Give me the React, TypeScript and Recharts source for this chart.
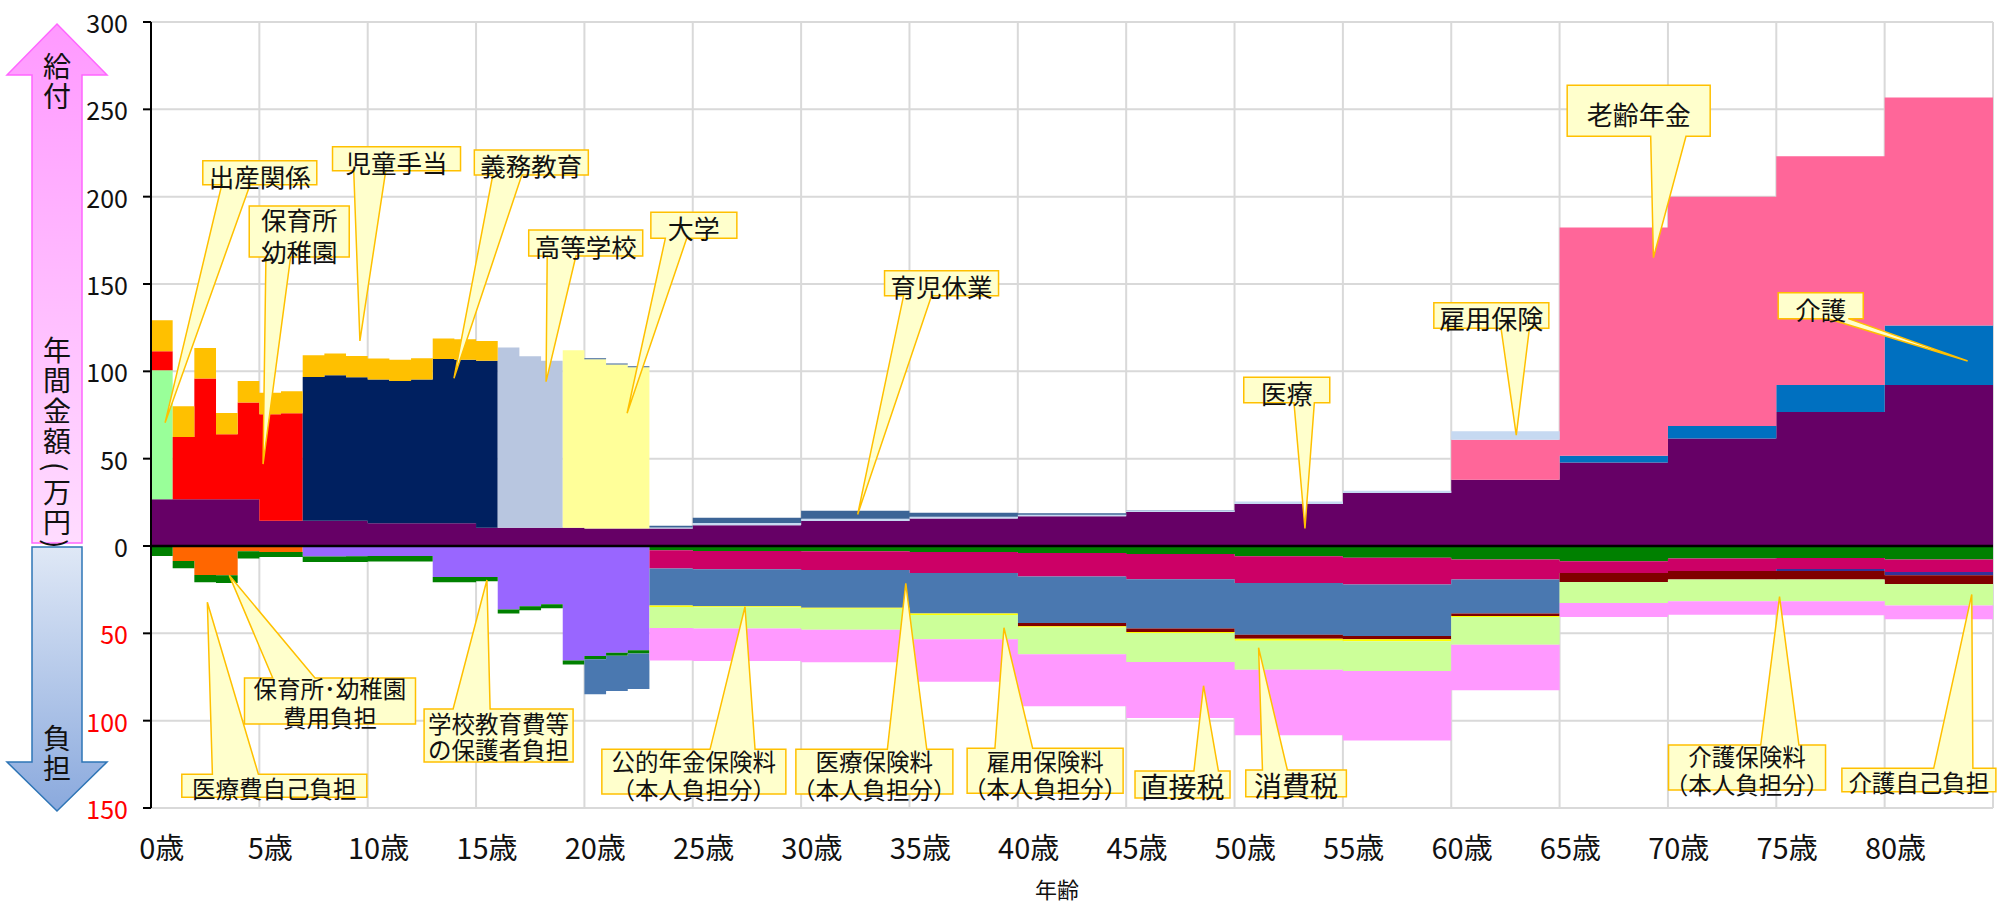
import React from 'react';
import { AreaChart, Area, XAxis, YAxis, CartesianGrid, ReferenceLine } from 'recharts';

const FONT = "'Noto Sans CJK JP', 'Noto Sans', sans-serif";

// ---- age groups (start age of each step); last group ends at 85 ----
const GROUP_START = [
  0, 1, 2, 3, 4, 5, 6, 7, 8, 9, 10, 11, 12, 13, 14, 15, 16, 17, 18, 19, 20, 21, 22,
  23, 25, 30, 35, 40, 45, 50, 55, 60, 65, 70, 75, 80,
];
const AGE_MAX = 85;
const TICK_AGES = [0, 5, 10, 15, 20, 25, 30, 35, 40, 45, 50, 55, 60, 65, 70, 75, 80];
const GRID_AGES = [5, 10, 15, 20, 25, 30, 35, 40, 45, 50, 55, 60, 65, 70, 75, 80, 85];
const Y_TICKS = [-150, -100, -50, 0, 50, 100, 150, 200, 250, 300];

// ---- benefits (給付), 万円 ----
const IRYO = [
  26.7, 26.7, 26.7, 26.7, 26.7, 14.5, 14.5, 14.5, 14.5, 14.5, 13.0, 13.0, 13.0, 13.0, 13.0, 10.5, 10.5, 10.5, 10.5, 10.5, 10.0, 10.0, 10.0,
  10.0, 11.9, 14.3, 15.7, 17.0, 19.5, 24.0, 30.4, 38.0, 47.8, 61.5, 76.7, 92.2,
];
const SHUSSAN = [
  73.9, 0, 0, 0, 0, 0, 0, 0, 0, 0, 0, 0, 0, 0, 0, 0, 0, 0, 0, 0, 0, 0, 0,
  0, 0, 0, 0, 0, 0, 0, 0, 0, 0, 0, 0, 0,
];
const HOIKU = [
  10.9, 35.7, 69.2, 37.3, 55.4, 60.9, 61.5, 0, 0, 0, 0, 0, 0, 0, 0, 0, 0, 0, 0, 0, 0, 0, 0,
  0, 0, 0, 0, 0, 0, 0, 0, 0, 0, 0, 0, 0,
];
const GIMU = [
  0, 0, 0, 0, 0, 0, 0, 82.3, 83.3, 82.1, 82.3, 81.5, 82.3, 94.1, 93.7, 95.5, 0, 0, 0, 0, 0, 0, 0,
  0, 0, 0, 0, 0, 0, 0, 0, 0, 0, 0, 0, 0,
];
const KOKO = [
  0, 0, 0, 0, 0, 0, 0, 0, 0, 0, 0, 0, 0, 0, 0, 0, 103.1, 98.1, 95.5, 0, 0, 0, 0,
  0, 0, 0, 0, 0, 0, 0, 0, 0, 0, 0, 0, 0,
];
const DAIGAKU = [
  0, 0, 0, 0, 0, 0, 0, 0, 0, 0, 0, 0, 0, 0, 0, 0, 0, 0, 0, 101.6, 96.9, 93.9, 92.3,
  0, 0, 0, 0, 0, 0, 0, 0, 0, 0, 0, 0, 0,
];
const JIDO = [
  17.8, 17.6, 17.5, 12.2, 12.4, 12.4, 12.6, 12.4, 12.4, 12.2, 12.0, 12.2, 12.2, 11.7, 11.7, 11.4, 0, 0, 0, 0, 0, 0, 0,
  0, 0, 0, 0, 0, 0, 0, 0, 0, 0, 0, 0, 0,
];
const KAIGO = [
  0, 0, 0, 0, 0, 0, 0, 0, 0, 0, 0, 0, 0, 0, 0, 0, 0, 0, 0, 0, 0, 0, 0,
  0, 0, 0, 0, 0, 0, 0, 0, 0, 3.8, 7.2, 15.5, 34.0,
];
const NENKIN = [
  0, 0, 0, 0, 0, 0, 0, 0, 0, 0, 0, 0, 0, 0, 0, 0, 0, 0, 0, 0, 0, 0, 0,
  0, 0, 0, 0, 0, 0, 0, 0, 22.9, 130.8, 131.2, 131.0, 130.6,
];
const KOYO = [
  0, 0, 0, 0, 0, 0, 0, 0, 0, 0, 0, 0, 0, 0, 0, 0, 0, 0, 0, 0, 0, 0, 0,
  0.6, 1.3, 1.3, 1.1, 0.9, 0.9, 1.5, 1.2, 4.8, 0, 0, 0, 0,
];
const IKUJI = [
  0, 0, 0, 0, 0, 0, 0, 0, 0, 0, 0, 0, 0, 0, 0, 0, 0, 0, 0, 0, 0.6, 0.6, 0.6,
  1.0, 3.0, 4.6, 2.3, 0.9, 0.2, 0, 0, 0, 0, 0, 0, 0,
];

// ---- burdens (負担), 万円 (drawn downward) ----
const HOIKU_HI = [
  0.5, 8.6, 16.6, 16.8, 3.0, 3.4, 3.4, 0, 0, 0, 0, 0, 0, 0, 0, 0, 0, 0, 0, 0, 0, 0, 0,
  0, 0, 0, 0, 0, 0, 0, 0, 0, 0, 0, 0, 0,
];
const GAKKO_HI = [
  0, 0, 0, 0, 0, 0, 0, 6.0, 6.0, 5.9, 5.7, 5.7, 5.7, 17.7, 17.7, 17.7, 36.4, 34.5, 33.4, 65.5, 63.0, 61.1, 59.7,
  0, 0, 0, 0, 0, 0, 0, 0, 0, 0, 0, 0, 0,
];
const IRYO_JIKO = [
  5.2, 4.2, 4.2, 4.4, 4.2, 2.9, 2.9, 3.2, 3.2, 3.2, 3.2, 3.2, 3.2, 3.0, 3.0, 2.5, 2.3, 2.3, 2.3, 2.3, 1.9, 1.7, 1.9,
  2.5, 2.8, 3.0, 3.4, 4.0, 4.6, 5.9, 6.7, 7.8, 8.8, 7.2, 6.9, 7.8,
];
const IRYO_HOKEN = [
  0, 0, 0, 0, 0, 0, 0, 0, 0, 0, 0, 0, 0, 0, 0, 0, 0, 0, 0, 0, 0, 0, 0,
  10.4, 10.5, 10.7, 12.1, 13.4, 14.5, 15.3, 15.4, 11.4, 6.6, 7.1, 6.3, 7.1,
];
const NENKIN_HOKEN = [
  0, 0, 0, 0, 0, 0, 0, 0, 0, 0, 0, 0, 0, 0, 0, 0, 0, 0, 0, 0, 20.0, 20.2, 20.3,
  21.2, 21.2, 21.6, 23.2, 26.7, 28.2, 29.6, 29.4, 19.5, 0, 0, 0, 0,
];
const KAIGO_JIKO = [
  0, 0, 0, 0, 0, 0, 0, 0, 0, 0, 0, 0, 0, 0, 0, 0, 0, 0, 0, 0, 0, 0, 0,
  0, 0, 0, 0, 0, 0, 0, 0, 0, 0, 0, 1.1, 1.9,
];
const KAIGO_HOKEN = [
  0, 0, 0, 0, 0, 0, 0, 0, 0, 0, 0, 0, 0, 0, 0, 0, 0, 0, 0, 0, 0, 0, 0,
  0, 0, 0, 0, 1.9, 1.9, 2.3, 1.9, 1.4, 5.2, 4.9, 4.9, 5.0,
];
const KOYO_HOKEN = [
  0, 0, 0, 0, 0, 0, 0, 0, 0, 0, 0, 0, 0, 0, 0, 0, 0, 0, 0, 0, 0, 0, 0,
  0.8, 0.6, 0.6, 0.8, 0.6, 0.8, 1.1, 1.2, 0.6, 0, 0, 0, 0,
];
const SHOHIZEI = [
  0, 0, 0, 0, 0, 0, 0, 0, 0, 0, 0, 0, 0, 0, 0, 0, 0, 0, 0, 0, 0, 0, 0,
  12.1, 12.2, 12.0, 13.9, 15.4, 16.4, 16.6, 17.0, 15.8, 12.0, 12.5, 12.5, 12.3,
];
const CHOKUSETSU = [
  0, 0, 0, 0, 0, 0, 0, 0, 0, 0, 0, 0, 0, 0, 0, 0, 0, 0, 0, 0, 0, 0, 0,
  18.5, 18.5, 18.7, 24.3, 29.8, 32.1, 37.6, 39.7, 26.1, 8.1, 7.6, 8.0, 7.9,
];

const POS_SERIES = [
  { key: 'iryo', name: '医療', color: '#660066', values: IRYO },
  { key: 'shussan', name: '出産関係', color: '#99ff99', values: SHUSSAN },
  { key: 'hoiku', name: '保育所・幼稚園', color: '#ff0000', values: HOIKU },
  { key: 'gimu', name: '義務教育', color: '#002060', values: GIMU },
  { key: 'koko', name: '高等学校', color: '#b8c6e0', values: KOKO },
  { key: 'daigaku', name: '大学', color: '#ffff99', values: DAIGAKU },
  { key: 'jido', name: '児童手当', color: '#ffc000', values: JIDO },
  { key: 'kaigo', name: '介護', color: '#0070c0', values: KAIGO },
  { key: 'nenkin', name: '老齢年金', color: '#ff6699', values: NENKIN },
  { key: 'koyo', name: '雇用保険', color: '#c6d9f1', values: KOYO },
  { key: 'ikuji', name: '育児休業', color: '#3c6496', values: IKUJI },
];
const NEG_SERIES = [
  { key: 'hoikuHi', name: '保育所・幼稚園費用負担', color: '#ff6600', values: HOIKU_HI },
  { key: 'gakkoHi', name: '学校教育費等の保護者負担', color: '#9966ff', values: GAKKO_HI },
  { key: 'iryoJiko', name: '医療費自己負担', color: '#008000', values: IRYO_JIKO },
  { key: 'iryoHoken', name: '医療保険料', color: '#cc0066', values: IRYO_HOKEN },
  { key: 'nenkinHoken', name: '公的年金保険料', color: '#4a78b0', values: NENKIN_HOKEN },
  { key: 'kaigoJiko', name: '介護自己負担', color: '#333399', values: KAIGO_JIKO },
  { key: 'kaigoHoken', name: '介護保険料', color: '#800000', values: KAIGO_HOKEN },
  { key: 'koyoHoken', name: '雇用保険料', color: '#ffff00', values: KOYO_HOKEN },
  { key: 'shohizei', name: '消費税', color: '#ccff99', values: SHOHIZEI },
  { key: 'chokusetsu', name: '直接税', color: '#ff99ff', values: CHOKUSETSU },
];

const rows: any[] = GROUP_START.map((age, i) => {
  const r: any = { age };
  POS_SERIES.forEach((s) => (r[s.key] = s.values[i]));
  NEG_SERIES.forEach((s) => (r[s.key] = -s.values[i]));
  return r;
});
rows.push({ ...rows[rows.length - 1], age: AGE_MAX });

// ---- callouts: tip & box centre in data units (age, 万円); size/wedge in px ----
type Ann = {
  lines: string[]; tip: [number, number]; box: [number, number];
  w: number; h: number; side: 'top' | 'bottom'; base: [number, number];
  fs: number; lh?: number; dy?: number;
};
const ANNOTATIONS: Ann[] = [
  { lines: ['出産関係'], tip: [0.65, 70.6], box: [5.02, 213.7], w: 114, h: 24, side: 'bottom', base: [-38, -9.7], fs: 25.5 },
  { lines: ['保育所', '幼稚園'], tip: [5.17, 46.9], box: [6.84, 180.1], w: 100, h: 51, side: 'bottom', base: [-33.3, -8.6], fs: 25.5, lh: 31.5, dy: 2.5 },
  { lines: ['児童手当'], tip: [9.64, 117.4], box: [11.33, 221.7], w: 128, h: 24, side: 'bottom', base: [-42.8, -10.8], fs: 25.5 },
  { lines: ['義務教育'], tip: [13.98, 96.0], box: [17.55, 219.6], w: 114, h: 25, side: 'bottom', base: [-38.5, -9.5], fs: 25.5 },
  { lines: ['高等学校'], tip: [18.23, 94.1], box: [20.06, 173.5], w: 114, h: 26, side: 'bottom', base: [-38.5, -9.8], fs: 25.5 },
  { lines: ['大学'], tip: [21.97, 76.0], box: [25.05, 183.6], w: 86, h: 26, side: 'bottom', base: [-28.5, -7.1], fs: 26 },
  { lines: ['育児休業'], tip: [32.61, 18.1], box: [36.48, 150.4], w: 114, h: 25, side: 'bottom', base: [-38, -10], fs: 25.5 },
  { lines: ['医療'], tip: [53.25, 10.1], box: [52.41, 89.3], w: 86, h: 25.5, side: 'bottom', base: [7.2, 27.6], fs: 26 },
  { lines: ['雇用保険'], tip: [63.0, 63.5], box: [61.85, 132.0], w: 115, h: 25.6, side: 'bottom', base: [9.7, 38.1], fs: 26 },
  { lines: ['老齢年金'], tip: [69.33, 165.1], box: [68.65, 249.2], w: 143, h: 51, side: 'bottom', base: [12, 47.3], fs: 26 },
  { lines: ['介護'], tip: [83.83, 105.9], box: [77.05, 137.6], w: 85, h: 26, side: 'bottom', base: [7.6, 27.6], fs: 25.5 },
  { lines: ['保育所･幼稚園', '費用負担'], tip: [3.61, -16.8], box: [8.26, -88.7], w: 171, h: 46, side: 'top', base: [-57.3, -15], fs: 23.5, lh: 29, dy: 2 },
  { lines: ['医療費自己負担'], tip: [2.6, -32.2], box: [5.69, -137.3], w: 185, h: 23, side: 'top', base: [-61.9, -15.9], fs: 23.5 },
  { lines: ['学校教育費等', 'の保護者負担'], tip: [15.5, -19.5], box: [16.04, -108.5], w: 149, h: 53, side: 'top', base: [-45.5, -8.5], fs: 23.5, lh: 26, dy: 0 },
  { lines: ['公的年金保険料', '（本人負担分）'], tip: [27.41, -34.8], box: [25.05, -129.2], w: 184, h: 44.7, side: 'top', base: [16.2, 61.2], fs: 23.5, lh: 27.5, dy: 3.5 },
  { lines: ['医療保険料', '（本人負担分）'], tip: [34.83, -21.4], box: [33.38, -129.2], w: 157, h: 44.7, side: 'top', base: [13, 52.4], fs: 23.5, lh: 27.5, dy: 3.5 },
  { lines: ['雇用保険料', '（本人負担分）'], tip: [39.36, -46.8], box: [41.26, -128.7], w: 156, h: 45, side: 'top', base: [-50.2, -12.5], fs: 23.5, lh: 27.5, dy: 3.5 },
  { lines: ['直接税'], tip: [48.57, -80.0], box: [47.6, -136.5], w: 95, h: 27, side: 'top', base: [11.4, 35.9], fs: 28 },
  { lines: ['消費税'], tip: [51.11, -58.2], box: [52.84, -135.9], w: 100.6, h: 26.7, side: 'top', base: [-33.6, -8.7], fs: 28 },
  { lines: ['介護保険料', '（本人負担分）'], tip: [75.15, -29.0], box: [73.65, -126.8], w: 157, h: 45, side: 'top', base: [13.7, 51.9], fs: 23.5, lh: 28.5, dy: 2.6 },
  { lines: ['介護自己負担'], tip: [84.02, -27.7], box: [81.58, -134.0], w: 154, h: 23.4, side: 'top', base: [14.8, 54], fs: 23.5 },
];

const Callout = ({ p, a }: { p: any; a: Ann }) => {
  const tx = p.x1, ty = p.y1, cx = p.x2, cy = p.y2;
  if ([tx, ty, cx, cy].some((v) => typeof v !== 'number' || isNaN(v))) return <g />;
  const L = cx - a.w / 2, R = cx + a.w / 2, T = cy - a.h / 2, B = cy + a.h / 2;
  const b1 = cx + a.base[0], b2 = cx + a.base[1];
  const d = a.side === 'bottom'
    ? `M${L},${T} H${R} V${B} H${b2} L${tx},${ty} L${b1},${B} H${L} Z`
    : `M${L},${T} H${b1} L${tx},${ty} L${b2},${T} H${R} V${B} H${L} Z`;
  const lh = a.lh ?? a.fs * 1.2;
  const dy = a.dy ?? 2;
  const n = a.lines.length;
  const y0 = cy + dy - ((n - 1) / 2) * lh;
  return (
    <g>
      <path d={d} fill="#ffffcc" stroke="#ffc000" strokeWidth={1.5} strokeLinejoin="miter" />
      <text x={cx} y={y0} textAnchor="middle" dominantBaseline="central" fontSize={a.fs} fontFamily={FONT} fill="#111">
        {a.lines.map((t, i) => (
          <tspan key={i} x={cx} y={y0 + i * lh}>{t}</tspan>
        ))}
      </text>
    </g>
  );
};

const XTick = (props: any) => {
  const { x, y, payload } = props;
  return (
    <text x={x} y={y} dy="0.71em" textAnchor="middle" fontSize={29} fill="#111" fontFamily={FONT}>
      {`${Math.floor(payload.value)}歳`}
    </text>
  );
};

const YTick = (props: any) => {
  const { x, y, payload } = props;
  const v = payload.value;
  return (
    <text x={x} y={y} textAnchor="end" dominantBaseline="central" fontSize={25} fill={v < 0 ? '#ff0000' : '#111'} fontFamily={FONT}>
      {Math.abs(v)}
    </text>
  );
};

const vText: React.CSSProperties = {
  position: 'absolute', writingMode: 'vertical-rl', fontFamily: FONT, fontSize: 28, lineHeight: 1,
  color: '#111', letterSpacing: 2.5, whiteSpace: 'nowrap',
};

export default function App() {
  return (
    <div style={{ position: 'absolute', left: 0, top: 0, width: 1997, height: 906, background: '#fff', fontFamily: FONT, overflow: 'hidden' }}>
      <AreaChart width={1997} height={906} data={rows} margin={{ top: 22, right: 4, bottom: 0, left: 91 }}>
        <CartesianGrid stroke="#d9d9d9" strokeWidth={2} verticalValues={GRID_AGES} />
        <XAxis type="number" dataKey="age" domain={[0, AGE_MAX]} ticks={TICK_AGES.map((a) => a + 0.5)}
          interval={0} tick={<XTick />} axisLine={false} tickLine={false} tickSize={8} tickMargin={22}
          height={98} allowDataOverflow />
        <YAxis type="number" domain={[-150, 300]} ticks={Y_TICKS} interval={0} tick={<YTick />}
          width={60} tickSize={8} tickMargin={15} allowDataOverflow
          axisLine={{ stroke: '#000', strokeWidth: 2 }} tickLine={{ stroke: '#000', strokeWidth: 2 }} />
        {POS_SERIES.map((s) => (
          <Area key={s.key} type="stepAfter" dataKey={s.key} name={s.name} stackId="pos" fill={s.color}
            fillOpacity={1} stroke="none" isAnimationActive={false} dot={false} activeDot={false} />
        ))}
        {NEG_SERIES.map((s) => (
          <Area key={s.key} type="stepAfter" dataKey={s.key} name={s.name} stackId="neg" fill={s.color}
            fillOpacity={1} stroke="none" isAnimationActive={false} dot={false} activeDot={false} />
        ))}
        <ReferenceLine y={0} stroke="#000" strokeWidth={2.5} />
        {ANNOTATIONS.map((a, i) => (
          <ReferenceLine key={'ann' + i} ifOverflow="visible"
            segment={[{ x: a.tip[0], y: a.tip[1] }, { x: a.box[0], y: a.box[1] }]}
            shape={(p: any) => <Callout p={p} a={a} />} />
        ))}
      </AreaChart>

      {/* side arrows */}
      <svg width={120} height={906} style={{ position: 'absolute', left: 0, top: 0 }}>
        <defs>
          <linearGradient id="gPink" x1="0" y1="0" x2="0" y2="1">
            <stop offset="0" stopColor="#ff99ff" />
            <stop offset="1" stopColor="#ffdcff" />
          </linearGradient>
        </defs>
        <path d="M57,24 L107,75 L82,75 L82,543 L32,543 L32,75 L7,75 Z" fill="url(#gPink)" stroke="#ff66ff" strokeWidth={1.5} />
      </svg>
      <div style={{ ...vText, left: 43, top: 52 }}>給付</div>
      <div style={{ ...vText, left: 43, top: 336 }}>
        年間金額<span style={{ marginTop: 4, marginBottom: 4 }}>(</span>万円)
      </div>
      <svg width={120} height={906} style={{ position: 'absolute', left: 0, top: 0 }}>
        <defs>
          <linearGradient id="gBlue" x1="0" y1="0" x2="0" y2="1">
            <stop offset="0" stopColor="#dfe8f6" />
            <stop offset="1" stopColor="#8aa9dd" />
          </linearGradient>
        </defs>
        <path d="M32,547 L82,547 L82,762 L107,762 L57,811 L7,762 L32,762 Z" fill="url(#gBlue)" stroke="#2e75b6" strokeWidth={1.5} />
      </svg>
      <div style={{ ...vText, left: 43, top: 724 }}>負担</div>

      <div style={{ position: 'absolute', left: 1007, top: 877, width: 100, textAlign: 'center', fontFamily: FONT, fontSize: 22, color: '#111', lineHeight: '22px' }}>
        年齢
      </div>
    </div>
  );
}
